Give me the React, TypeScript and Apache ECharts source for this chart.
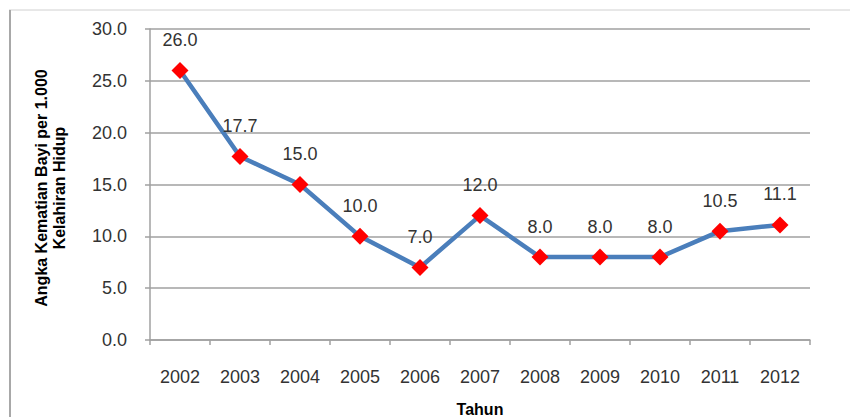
import React, { useEffect, useRef } from "react";
import * as echarts from "echarts";

const years = ["2002", "2003", "2004", "2005", "2006", "2007", "2008", "2009", "2010", "2011", "2012"];
const values = [26.0, 17.7, 15.0, 10.0, 7.0, 12.0, 8.0, 8.0, 8.0, 10.5, 11.1];
const yTitle = "Angka Kematian Bayi per 1.000\nKelahiran Hidup";
const xTitle = "Tahun";

export default function App() {
  const ref = useRef<HTMLDivElement>(null);
  useEffect(() => {
    if (!ref.current) return;
    const chart = echarts.init(ref.current, null, { renderer: "svg" });
    const font = "Liberation Sans, Arial, sans-serif";
    chart.setOption({
      animation: false,
      backgroundColor: "#ffffff",
      grid: { left: 150, right: 40, top: 29, bottom: 77, containLabel: false, outerBoundsMode: "none" },
      graphic: [
        { type: "line", shape: { x1: 9, y1: 10, x2: 850, y2: 10 }, style: { stroke: "#d0d0d0", lineWidth: 1 } },
        { type: "line", shape: { x1: 10, y1: 10, x2: 10, y2: 417 }, style: { stroke: "#a8a8a8", lineWidth: 2 } },
        {
          type: "text",
          x: 50,
          y: 188,
          rotation: Math.PI / 2,
          style: {
            text: yTitle,
            font: "bold 16px " + font,
            fill: "#000",
            textAlign: "center",
            textVerticalAlign: "middle",
            lineHeight: 18,
          },
        },
      ],
      xAxis: {
        type: "category",
        data: years,
        boundaryGap: true,
        name: xTitle,
        nameLocation: "middle",
        nameGap: 61,
        nameTextStyle: { fontFamily: font, fontSize: 16, fontWeight: "bold", color: "#000", verticalAlign: "top" },
        axisLine: { lineStyle: { color: "#a0a0a0", width: 1.5 } },
        axisTick: { show: true, length: 5, alignWithLabel: false, lineStyle: { color: "#a0a0a0", width: 1.5 } },
        axisLabel: { fontFamily: font, fontSize: 18, color: "#333", margin: 28 },
      },
      yAxis: {
        type: "value",
        min: 0,
        max: 30,
        interval: 5,
        axisLine: { show: true, lineStyle: { color: "#a0a0a0", width: 1.5 } },
        axisTick: { show: true, length: 5, lineStyle: { color: "#a0a0a0", width: 1.5 } },
        axisLabel: { fontFamily: font, fontSize: 18, color: "#333", margin: 23, formatter: (v: number) => v.toFixed(1) },
        splitLine: { show: true, lineStyle: { color: "#a0a0a0", width: 1.5 } },
      },
      series: [
        {
          type: "line",
          data: values,
          symbol: "diamond",
          symbolSize: 17,
          lineStyle: { color: "#4a7ebb", width: 4.5 },
          itemStyle: { color: "#ff0000", borderWidth: 0 },
          label: {
            show: true,
            position: "top",
            distance: 13,
            fontFamily: font,
            fontSize: 18,
            color: "#333",
            formatter: (p: any) => Number(p.value).toFixed(1),
          },
        },
      ],
    });
    return () => chart.dispose();
  }, []);
  return <div ref={ref} style={{ position: "fixed", left: 0, top: 0, width: 850, height: 417 }} />;
}
